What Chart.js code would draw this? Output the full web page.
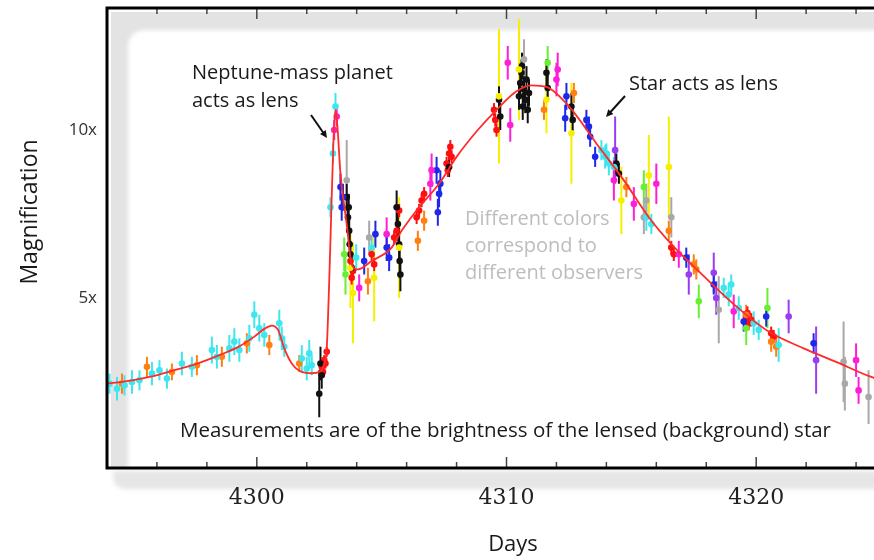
<!DOCTYPE html>
<html>
<head>
<meta charset="utf-8">
<script src="https://cdn.jsdelivr.net/npm/chart.js@4.4.1/dist/chart.umd.min.js"></script>
<style>
  html, body { margin: 0; padding: 0; background: #fff; overflow: hidden; }
  #wrap { width: 920px; height: 560px; }
</style>
</head>
<body>
<div id="wrap"><canvas id="lightCurve" width="920" height="560"></canvas></div>
<script>
// --- DADOS ---

// Eixos
const xTicks = [4300, 4310, 4320];
const yTicks = [5, 10];

// Curva do modelo (linha vermelha)
const modelDays = [4294.0, 4295.0, 4295.7, 4296.7, 4297.7, 4298.5, 4299.3, 4299.9, 4300.3, 4300.6,
  4300.85, 4301.1, 4301.4, 4301.8, 4302.2, 4302.5, 4302.7, 4302.8, 4302.9, 4302.98,
  4303.07, 4303.15, 4303.22, 4303.35, 4303.6, 4303.8, 4304.05, 4304.6, 4305.4, 4305.8,
  4306.5, 4307.3, 4308.0, 4308.85, 4309.6, 4310.4, 4311.0, 4311.6, 4312.5, 4313.6,
  4314.7, 4315.7, 4316.6, 4317.9, 4319.2, 4320.5, 4321.9, 4323.2, 4324.5, 4326.4];
const modelMag = [2.45, 2.55, 2.65, 2.85, 3.07, 3.3, 3.56, 3.85, 4.08, 4.18,
  4.05, 3.5, 3.05, 2.8, 2.76, 2.8, 3.05, 3.5, 5.5, 7.5,
  9.7, 10.6, 10.2, 8.7, 7.2, 6.0, 5.85, 6.1, 6.5, 7.0,
  7.7, 8.4, 9.2, 10.0, 10.6, 11.15, 11.33, 11.28, 10.7, 9.6,
  8.5, 7.4, 6.6, 5.65, 4.75, 4.0, 3.5, 3.1, 2.68, 2.2];

// Observadores: [dia, magnificação, erro]
const cyan = [[4294.1, 2.45, 0.3], [4294.4, 2.3, 0.35], [4294.7, 2.4, 0.3], [4295.0, 2.5, 0.35], [4295.3, 2.55, 0.3],
  [4295.8, 2.75, 0.35], [4296.1, 2.85, 0.3], [4296.4, 2.6, 0.3], [4297.0, 3.05, 0.35], [4297.4, 2.95, 0.3],
  [4298.2, 3.45, 0.4], [4298.4, 3.25, 0.35], [4298.9, 3.5, 0.4], [4299.1, 3.7, 0.4], [4299.3, 3.45, 0.35],
  [4299.7, 3.8, 0.4], [4299.9, 4.5, 0.4], [4300.1, 4.1, 0.4], [4300.3, 3.9, 0.35], [4300.9, 4.25, 0.4],
  [4301.0, 3.8, 0.35], [4301.1, 3.55, 0.3], [4301.8, 3.2, 0.4], [4302.0, 2.9, 0.35], [4302.1, 3.35, 0.4],
  [4302.2, 3.0, 0.3], [4302.95, 7.7, 0.3], [4303.05, 9.3, 0.3], [4303.15, 10.7, 0.4], [4303.98, 6.2, 0.4],
  [4304.6, 6.5, 0.3], [4313.8, 9.4, 0.3], [4313.95, 9.2, 0.35], [4314.0, 9.3, 0.3], [4314.1, 9.0, 0.35],
  [4314.3, 8.9, 0.3], [4315.6, 7.4, 0.4], [4315.8, 7.2, 0.3], [4318.7, 5.3, 0.3], [4318.9, 5.1, 0.35],
  [4319.0, 5.4, 0.3], [4319.3, 4.7, 0.35], [4319.9, 4.25, 0.35], [4320.1, 4.05, 0.3], [4320.9, 3.6, 0.5]];
const orange = [[4294.6, 2.45, 0.3], [4295.6, 2.95, 0.3], [4296.6, 2.8, 0.25], [4297.6, 3.0, 0.3], [4298.6, 3.25, 0.3],
  [4299.6, 3.65, 0.3], [4300.5, 3.6, 0.3], [4301.7, 3.05, 0.25], [4304.45, 5.5, 0.4], [4306.45, 6.7, 0.3],
  [4306.7, 7.3, 0.3], [4311.5, 10.6, 0.3], [4312.7, 11.1, 0.3], [4314.8, 8.3, 0.3], [4316.5, 7.0, 0.3],
  [4317.5, 6.0, 0.3], [4317.6, 5.85, 0.3], [4319.6, 4.5, 0.3], [4320.6, 3.7, 0.3], [4320.8, 3.55, 0.3]];
const red = [[4302.6, 2.95, 0.15], [4302.65, 2.8, 0.15], [4302.7, 3.15, 0.15], [4302.75, 3.05, 0.15], [4302.8, 3.4, 0.15],
  [4303.75, 6.1, 0.2], [4303.8, 5.6, 0.2], [4303.85, 5.8, 0.2], [4304.6, 6.3, 0.2], [4304.7, 6.0, 0.2],
  [4305.5, 6.8, 0.2], [4305.6, 7.0, 0.2], [4305.7, 7.6, 0.2], [4306.4, 7.4, 0.2], [4306.5, 7.6, 0.2],
  [4306.6, 7.9, 0.2], [4306.7, 8.1, 0.2], [4307.6, 9.0, 0.2], [4307.65, 8.8, 0.2], [4307.7, 9.3, 0.2],
  [4307.75, 9.5, 0.2], [4307.8, 9.2, 0.2], [4309.5, 10.6, 0.2], [4309.55, 10.3, 0.2], [4309.6, 10.0, 0.2],
  [4316.6, 6.5, 0.2], [4316.7, 6.3, 0.2], [4319.6, 4.4, 0.2], [4319.65, 4.55, 0.2], [4319.7, 4.25, 0.2],
  [4319.8, 4.35, 0.2], [4320.6, 3.95, 0.2], [4320.7, 3.85, 0.2]];
const black = [[4302.5, 2.15, 0.7], [4302.55, 3.05, 0.5], [4302.6, 2.7, 0.4], [4303.6, 8.0, 0.4], [4303.65, 7.4, 0.4],
  [4303.68, 7.7, 0.4], [4303.7, 7.0, 0.4], [4303.72, 6.6, 0.4], [4303.75, 6.3, 0.4], [4303.8, 5.9, 0.4],
  [4305.6, 7.7, 0.5], [4305.65, 7.2, 0.5], [4305.7, 6.6, 0.5], [4305.72, 6.1, 0.5], [4305.75, 5.7, 0.5],
  [4307.7, 8.9, 0.3], [4309.7, 10.9, 0.4], [4309.75, 10.4, 0.4], [4310.5, 11.0, 0.4], [4310.55, 11.4, 0.4],
  [4310.6, 11.7, 0.4], [4310.62, 11.9, 0.4], [4310.65, 10.7, 0.4], [4310.7, 11.2, 0.4], [4310.75, 10.9, 0.4],
  [4310.8, 11.5, 0.4], [4310.85, 10.6, 0.4], [4310.9, 11.1, 0.4], [4311.6, 11.7, 0.4], [4311.65, 11.25, 0.4],
  [4312.6, 10.7, 0.4], [4312.65, 10.3, 0.4], [4314.4, 9.0, 0.3], [4314.5, 8.7, 0.3]];
const blue = [[4303.35, 8.3, 0.4], [4303.4, 7.7, 0.4], [4303.45, 8.0, 0.4], [4304.3, 6.1, 0.4], [4304.75, 6.9, 0.4],
  [4305.2, 6.5, 0.4], [4305.3, 6.2, 0.4], [4307.2, 8.8, 0.4], [4307.25, 7.55, 0.4], [4307.3, 8.1, 0.4],
  [4307.35, 8.4, 0.4], [4312.35, 10.35, 0.4], [4312.4, 11.0, 0.4], [4313.2, 10.3, 0.3], [4313.3, 10.1, 0.3],
  [4313.35, 9.8, 0.3], [4313.55, 9.2, 0.3], [4317.2, 6.2, 0.3], [4318.3, 5.4, 0.3], [4319.5, 4.3, 0.3],
  [4320.4, 4.45, 0.3], [4322.3, 3.65, 0.3]];
const magenta = [[4303.1, 10.0, 0.3], [4303.2, 10.4, 0.3], [4304.1, 5.3, 0.4], [4305.2, 6.9, 0.5], [4306.95, 8.4, 0.5],
  [4307.0, 8.8, 0.5], [4310.05, 12.0, 0.5], [4310.15, 10.15, 0.5], [4312.0, 11.5, 0.5], [4312.05, 11.8, 0.5],
  [4314.3, 8.5, 0.6], [4315.1, 7.8, 0.5], [4316.0, 8.4, 0.6], [4316.9, 6.3, 0.4], [4319.1, 4.6, 0.5],
  [4324.0, 3.15, 0.5], [4324.1, 2.25, 0.4]];
const yellow = [[4303.75, 5.9, 1.2], [4303.85, 5.15, 1.5], [4304.7, 5.6, 1.3], [4305.7, 6.5, 1.5], [4309.7, 11.0, 2.0],
  [4310.5, 11.8, 1.5], [4311.6, 10.9, 1.0], [4312.6, 9.9, 1.5], [4314.6, 7.9, 1.0], [4315.7, 8.65, 1.2],
  [4316.5, 8.9, 1.5]];
const green = [[4303.5, 6.3, 0.5], [4303.55, 5.7, 0.6], [4311.65, 12.0, 0.5], [4315.5, 8.3, 0.5], [4317.7, 4.9, 0.5],
  [4319.6, 4.1, 0.5], [4320.45, 4.7, 0.6]];
const gray = [[4303.6, 8.5, 1.2], [4304.5, 6.8, 0.5], [4310.7, 12.1, 0.6], [4315.5, 7.4, 0.5], [4315.6, 7.9, 0.5],
  [4316.6, 7.4, 0.6], [4318.5, 4.65, 1.0], [4323.5, 3.1, 1.2], [4323.55, 2.45, 0.8], [4324.5, 2.05, 0.8]];
const purple = [[4314.35, 9.4, 1.0], [4317.3, 5.7, 0.6], [4318.3, 5.75, 0.6], [4318.4, 5.0, 0.5], [4321.3, 4.45, 0.5],
  [4322.4, 3.15, 1.0]];

// Cores de cada observador
const observers = [
  { name: 'cyan', pts: cyan, color: '#3ee6ee' },
  { name: 'orange', pts: orange, color: '#ff7f10' },
  { name: 'gray', pts: gray, color: '#a8a8a8' },
  { name: 'yellow', pts: yellow, color: '#f4f000' },
  { name: 'green', pts: green, color: '#66f030' },
  { name: 'purple', pts: purple, color: '#9a3cf0' },
  { name: 'magenta', pts: magenta, color: '#ff1ed8' },
  { name: 'blue', pts: blue, color: '#1e28e8' },
  { name: 'black', pts: black, color: '#111111' },
  { name: 'red', pts: red, color: '#ff1010' }
];

const SANS = "'Open Sans', Lato, sans-serif";

// --- PLUGIN: moldura, barras de erro, marcas e anotações ---
const framePlugin = {
  id: 'frame',
  beforeDraw(chart) {
    const { ctx, chartArea: a } = chart;
    ctx.save();
    // sombra abaixo do eixo
    ctx.filter = 'blur(2px)';
    ctx.fillStyle = '#e6e6e6';
    ctx.beginPath();
    ctx.roundRect(a.left + 6, a.bottom + 3, a.right - a.left + 20, 18, [0, 0, 0, 12]);
    ctx.fill();
    ctx.filter = 'none';
    // moldura cinza interna (efeito "bevel"), recortada na área do gráfico
    ctx.beginPath();
    ctx.rect(a.left, a.top, a.right - a.left, a.bottom - a.top);
    ctx.clip();
    ctx.fillStyle = '#e3e3e3';
    ctx.fillRect(a.left + 4, a.top + 4, a.right - a.left, a.bottom - a.top - 4);
    ctx.filter = 'blur(2px)';
    ctx.fillStyle = '#ffffff';
    ctx.beginPath();
    ctx.roundRect(a.left + 21, a.top + 22, a.right - a.left + 40, a.bottom - a.top + 40, 16);
    ctx.fill();
    ctx.restore();
  },
  beforeDatasetsDraw(chart) {
    const { ctx, scales } = chart;
    const xs = scales.x, ys = scales.y;
    ctx.save();
    // barras de erro
    ctx.lineWidth = 2;
    chart.data.datasets.forEach((ds, i) => {
      if (!ds.errorBars || !chart.isDatasetVisible(i)) return;
      ctx.strokeStyle = ds.backgroundColor;
      ds.data.forEach(p => {
        const x = xs.getPixelForValue(p.x);
        ctx.beginPath();
        ctx.moveTo(x, ys.getPixelForValue(p.y - p.e));
        ctx.lineTo(x, ys.getPixelForValue(p.y + p.e));
        ctx.stroke();
      });
    });
    ctx.restore();
  },
  afterDatasetsDraw(chart) {
    const { ctx, chartArea: a, scales } = chart;
    ctx.save();
    // marcas do eixo x (em cima e em baixo, para dentro)
    ctx.strokeStyle = '#444';
    ctx.lineWidth = 1.5;
    for (let d = Math.ceil(scales.x.min / 2) * 2; d <= scales.x.max; d += 2) {
      const x = scales.x.getPixelForValue(d);
      const len = d % 10 === 0 ? 11 : 6;
      ctx.beginPath();
      ctx.moveTo(x, a.bottom); ctx.lineTo(x, a.bottom - len);
      ctx.moveTo(x, a.top); ctx.lineTo(x, a.top + len);
      ctx.stroke();
    }
    // borda preta
    ctx.strokeStyle = '#000';
    ctx.lineWidth = 3;
    ctx.beginPath();
    ctx.moveTo(a.right + 5, a.top);
    ctx.lineTo(a.left, a.top);
    ctx.lineTo(a.left, a.bottom);
    ctx.lineTo(a.right + 5, a.bottom);
    ctx.stroke();
    ctx.restore();
  },
  afterDraw(chart) {
    const { ctx } = chart;
    ctx.save();
    ctx.textBaseline = 'middle';
    ctx.textAlign = 'left';
    ctx.font = `20px ${SANS}`;
    ctx.fillStyle = '#1a1a1a';
    ctx.fillText('Neptune-mass planet', 192, 73);
    ctx.fillText('acts as lens', 192, 101);
    ctx.fillText('Star acts as lens', 629, 84);
    ctx.font = `20.5px ${SANS}`;
    ctx.fillText('Measurements are of the brightness of the lensed (background) star', 180, 431);
    ctx.font = `20px ${SANS}`;
    ctx.fillStyle = '#bdbdbd';
    ctx.fillText('Different colors', 465, 219);
    ctx.fillText('correspond to', 465, 246);
    ctx.fillText('different observers', 465, 273);
    // títulos dos eixos
    ctx.fillStyle = '#1a1a1a';
    ctx.textAlign = 'center';
    ctx.font = `22px ${SANS}`;
    ctx.fillText('Days', 513, 545);
    ctx.font = `23px ${SANS}`;
    ctx.translate(30, 212);
    ctx.rotate(-Math.PI / 2);
    ctx.fillText('Magnification', 0, 0);
    ctx.restore();
    // setas
    ctx.save();
    drawArrow(ctx, 311, 115, 327, 138);
    drawArrow(ctx, 625, 96, 606, 117);
    ctx.restore();
  }
};

function drawArrow(ctx, x1, y1, x2, y2) {
  const ang = Math.atan2(y2 - y1, x2 - x1);
  ctx.strokeStyle = '#111';
  ctx.fillStyle = '#111';
  ctx.lineWidth = 2;
  ctx.beginPath();
  ctx.moveTo(x1, y1);
  ctx.lineTo(x2 - 4 * Math.cos(ang), y2 - 4 * Math.sin(ang));
  ctx.stroke();
  ctx.beginPath();
  ctx.moveTo(x2, y2);
  ctx.lineTo(x2 - 8 * Math.cos(ang - 0.45), y2 - 8 * Math.sin(ang - 0.45));
  ctx.lineTo(x2 - 8 * Math.cos(ang + 0.45), y2 - 8 * Math.sin(ang + 0.45));
  ctx.closePath();
  ctx.fill();
}

// --- MONTAGEM DOS DATASETS ---
const datasets = [{
  type: 'line',
  label: 'Model',
  data: modelDays.map((d, i) => ({ x: d, y: modelMag[i] })),
  borderColor: '#ff2a2a',
  borderWidth: 1.8,
  pointRadius: 0,
  cubicInterpolationMode: 'monotone',
  order: 0
}];

observers.forEach(o => {
  datasets.push({
    type: 'scatter',
    label: o.name,
    data: o.pts.map(p => ({ x: p[0], y: p[1], e: p[2] })),
    backgroundColor: o.color,
    borderWidth: 0,
    pointRadius: 3.3,
    errorBars: true,
    order: 1
  });
});

new Chart(document.getElementById('lightCurve'), {
  data: { datasets },
  plugins: [framePlugin],
  options: {
    responsive: false,
    animation: false,
    layout: { padding: { top: 8, right: 0, bottom: 0, left: 0 } },
    plugins: { legend: { display: false }, tooltip: { enabled: false } },
    scales: {
      x: {
        type: 'linear',
        min: 4294,
        max: 4326.4,
        grid: { display: false, drawTicks: false },
        border: { display: false },
        afterBuildTicks: s => { s.ticks = xTicks.map(v => ({ value: v })); },
        afterFit: s => { s.height = 92; s.paddingLeft = 0; s.paddingRight = 0; },
        ticks: {
          padding: 17,
          color: '#222',
          font: { family: "'DejaVu Serif', serif", size: 22 },
          callback: v => String(v)
        }
      },
      y: {
        type: 'linear',
        min: -0.06,
        max: 13.63,
        grid: { display: false, drawTicks: false },
        border: { display: false },
        afterBuildTicks: s => { s.ticks = yTicks.map(v => ({ value: v })); },
        afterFit: s => { s.width = 107; s.paddingTop = 0; s.paddingBottom = 0; },
        ticks: {
          padding: 10,
          color: '#333',
          font: { family: SANS, size: 17 },
          callback: v => v + 'x'
        }
      }
    }
  }
});
</script>
</body>
</html>
